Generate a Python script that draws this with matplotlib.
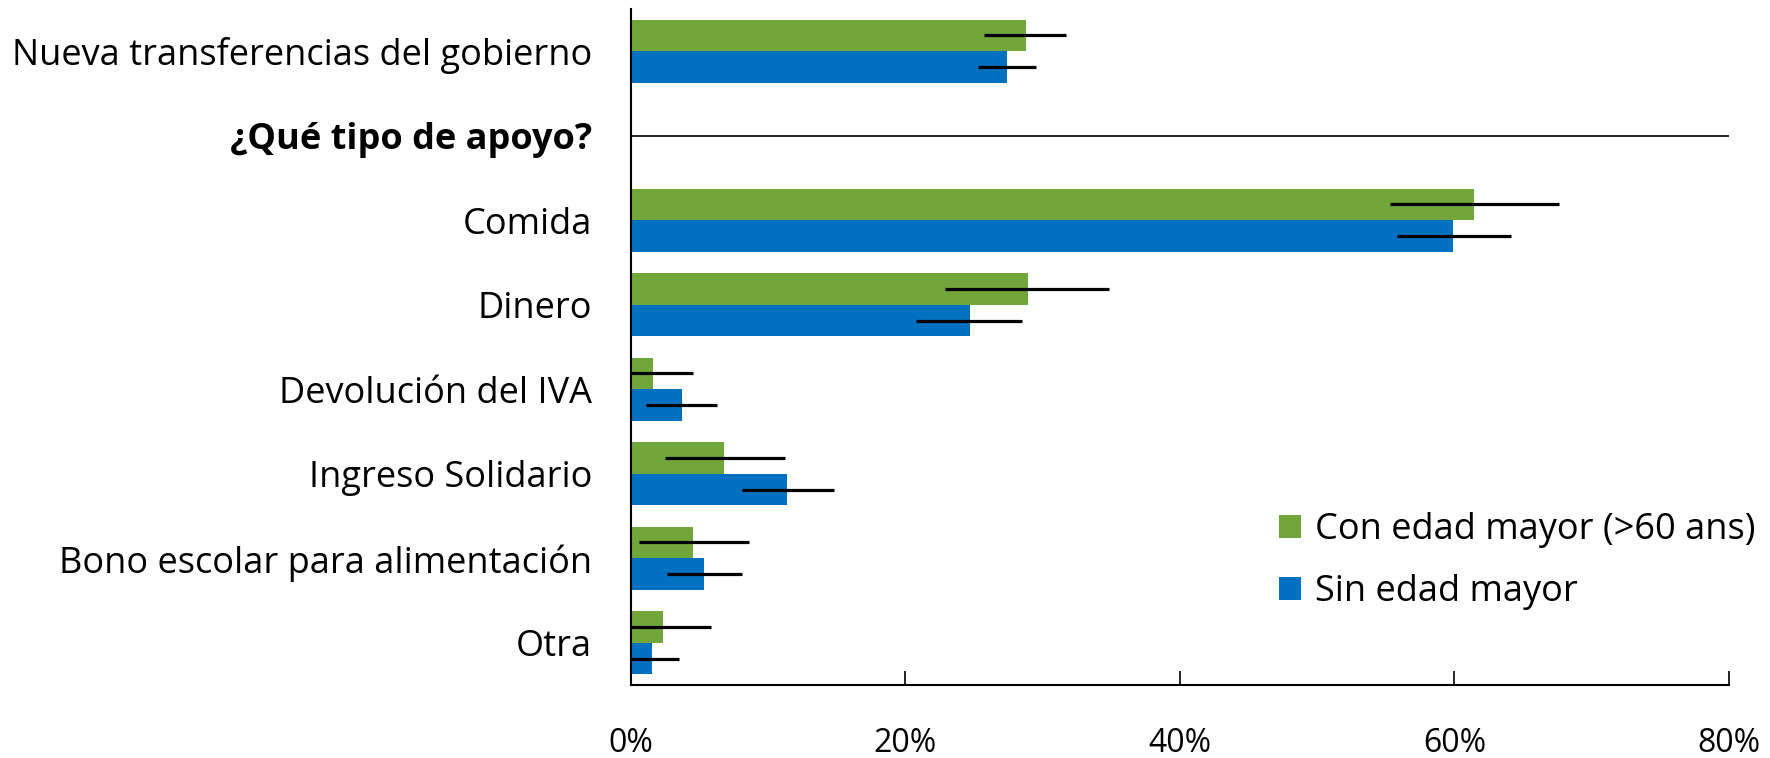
import matplotlib
matplotlib.use("Agg")
import matplotlib.pyplot as plt
import numpy as np

plt.rcParams['font.family'] = ['Open Sans', 'DejaVu Sans']

# categories, top to bottom (header row is inserted at position 1)
categories = ["Nueva transferencias del gobierno", "Comida", "Dinero",
              "Devolución del IVA", "Ingreso Solidario",
              "Bono escolar para alimentación", "Otra"]
header = "¿Qué tipo de apoyo?"

# values in %
con_mayor = [28.8, 61.4, 28.9, 1.6, 6.8, 4.5, 2.3]
con_lo = [25.7, 55.3, 22.9, 0.0, 2.5, 0.6, 0.0]
con_hi = [31.7, 67.6, 34.8, 4.5, 11.2, 8.6, 5.8]

sin_mayor = [27.4, 59.9, 24.7, 3.7, 11.4, 5.3, 1.5]
sin_lo = [25.3, 55.8, 20.8, 1.1, 8.1, 2.6, 0.0]
sin_hi = [29.5, 64.1, 28.5, 6.3, 14.8, 8.1, 3.5]

xticks = [0, 20, 40, 60, 80]

green = '#70A63A'
blue = '#0070C0'

fig = plt.figure(figsize=(17.7, 7.58), dpi=100)
ax = fig.add_axes([0.3565, 0.0963, 0.6203, 0.8917])

pos = np.array([0, 2, 3, 4, 5, 6, 7])
h = 0.375

ax.barh(pos - h / 2, con_mayor, height=h, color=green, label='Con edad mayor (>60 ans)')
ax.barh(pos + h / 2, sin_mayor, height=h, color=blue, label='Sin edad mayor')

# error bars (no caps)
ax.hlines(pos - h / 2, con_lo, con_hi, color='black', lw=2.3)
ax.hlines(pos + h / 2, sin_lo, sin_hi, color='black', lw=2.3)

# divider line for the section header
ax.hlines(1, 0, 80, color='black', lw=1.2)

ax.set_xlim(0, 80)
ax.set_ylim(7.5, -0.5)

ax.set_xticks(xticks)
ax.set_xticklabels([f'{t}%' for t in xticks], fontsize=23)
ax.tick_params(axis='x', direction='in', length=10, width=1.2, pad=30)

ylabels = [categories[0], header] + categories[1:]
ax.set_yticks(np.arange(8))
ax.set_yticklabels(ylabels, fontsize=26)
ax.tick_params(axis='y', length=0, pad=28)
ax.get_yticklabels()[1].set_fontweight('bold')

for s in ['top', 'right']:
    ax.spines[s].set_visible(False)
ax.spines['left'].set_linewidth(1.5)
ax.spines['bottom'].set_linewidth(1.5)

ax.legend(loc='upper left', bbox_to_anchor=(1279 / 1770, 1 - 512 / 758),
          bbox_transform=fig.transFigure, frameon=False, fontsize=26,
          handlelength=0.6, handleheight=0.6, handletextpad=0.4,
          labelspacing=0.72, borderpad=0, borderaxespad=0)

fig.savefig('out.png', dpi=100)
